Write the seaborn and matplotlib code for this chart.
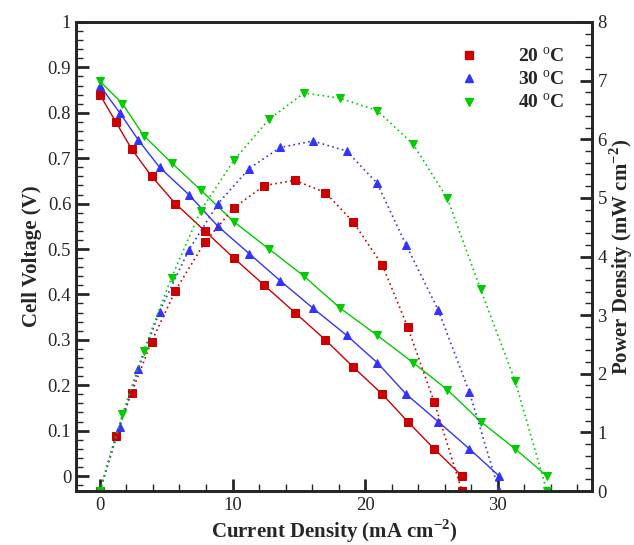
import matplotlib
matplotlib.use("Agg")
import matplotlib.pyplot as plt
import seaborn as sns
import numpy as np
import pandas as pd
from matplotlib.ticker import MultipleLocator

# ---- data ----
labels = ["20 $^{\\rm o}$C", "30 $^{\\rm o}$C", "40 $^{\\rm o}$C"]

i_20 = [0, 1.2, 2.4, 3.9, 5.7, 7.9, 10.1, 12.4, 14.7, 17.0, 19.1, 21.3, 23.2, 25.2, 27.3]
v_20 = [0.84, 0.78, 0.72, 0.66, 0.60, 0.54, 0.48, 0.42, 0.36, 0.30, 0.24, 0.18, 0.12, 0.06, 0.0]
p_20 = [0, 0.94, 1.68, 2.55, 3.42, 4.24, 4.83, 5.21, 5.30, 5.09, 4.59, 3.85, 2.80, 1.52, 0.0]

i_30 = [0, 1.5, 2.9, 4.5, 6.7, 8.9, 11.25, 13.6, 16.05, 18.6, 20.9, 23.1, 25.5, 27.85, 30.1]
v_30 = [0.86, 0.80, 0.74, 0.68, 0.62, 0.55, 0.49, 0.43, 0.37, 0.31, 0.25, 0.18, 0.12, 0.06, 0.0]
p_30 = [0, 1.10, 2.08, 3.06, 4.11, 4.90, 5.50, 5.86, 5.97, 5.80, 5.25, 4.19, 3.09, 1.69, 0.0]

i_40 = [0, 1.7, 3.3, 5.4, 7.6, 10.1, 12.75, 15.4, 18.1, 20.9, 23.6, 26.2, 28.7, 31.3, 33.7]
v_40 = [0.87, 0.82, 0.75, 0.69, 0.63, 0.56, 0.50, 0.44, 0.37, 0.31, 0.25, 0.19, 0.12, 0.06, 0.0]
p_40 = [0, 1.31, 2.39, 3.64, 4.78, 5.64, 6.34, 6.79, 6.70, 6.49, 5.92, 4.99, 3.44, 1.88, 0.0]

currents = [i_20, i_30, i_40]
voltages = [v_20, v_30, v_40]
powers = [p_20, p_30, p_40]
colors = ["#CC0000", "#3333FF", "#00CC00"]
markers = ["s", "^", "v"]

sns.set_style("ticks")
plt.rcParams["font.family"] = ["Liberation Serif", "DejaVu Serif"]
plt.rcParams["mathtext.fontset"] = "custom"
plt.rcParams["mathtext.rm"] = "Liberation Serif"
plt.rcParams["mathtext.bf"] = "Liberation Serif:bold"

fig = plt.figure(figsize=(6.34, 5.45), dpi=100)
ax = fig.add_axes([76 / 634, 1 - 491 / 545, (592 - 76) / 634, (491 - 22) / 545])
ax2 = ax.twinx()

handles = []
for I, V, P, c, m, lab in zip(currents, voltages, powers, colors, markers, labels):
    dfv = pd.DataFrame({"I": I, "V": V})
    dfp = pd.DataFrame({"I": I, "P": P})
    sns.lineplot(data=dfv, x="I", y="V", ax=ax, color=c, lw=1.0, marker=m,
                 markersize=6, markeredgecolor=c, sort=False, legend=False)
    sns.lineplot(data=dfp, x="I", y="P", ax=ax2, color=c, lw=1.2, marker=m,
                 markersize=6, markeredgecolor=c, sort=False, legend=False,
                 linestyle=(0, (1, 2)))
    h, = ax.plot([], [], ls="none", marker=m, color=c, markersize=6, label=lab)
    handles.append(h)

ax.set_xlim(-1.8, 37.1)
ax.set_ylim(-0.033, 1.0)
ax2.set_ylim(0, 8)

ax.xaxis.set_major_locator(MultipleLocator(10))
ax.xaxis.set_minor_locator(MultipleLocator(2))
ax.yaxis.set_major_locator(MultipleLocator(0.1))
ax.yaxis.set_minor_locator(MultipleLocator(0.02))
ax2.yaxis.set_major_locator(MultipleLocator(1))
ax2.yaxis.set_minor_locator(MultipleLocator(0.2))

ax.set_yticks(np.round(np.arange(0, 1.01, 0.1), 1))
ax.set_yticklabels(["0", "0.1", "0.2", "0.3", "0.4", "0.5", "0.6", "0.7", "0.8", "0.9", "1"])

for a in (ax, ax2):
    a.tick_params(which="major", direction="in", length=9, width=2, labelsize=13.5)
    a.tick_params(which="minor", direction="in", length=5, width=1)
    for s in a.spines.values():
        s.set_linewidth(2)
ax.tick_params(axis="both", top=False, right=False)
ax.tick_params(axis="x", pad=4)
ax2.tick_params(axis="y", right=True, left=False, pad=4)

ax.set_xlabel("Current Density (mA cm$^{\\mathbf{-2}}$)", fontsize=15, fontweight="bold", labelpad=3)
ax.set_ylabel("Cell Voltage (V)", fontsize=15, fontweight="bold", labelpad=4)
ax2.set_ylabel("Power Density (mW cm$^{\\mathbf{-2}}$)", fontsize=15, fontweight="bold", labelpad=0)

leg = ax.legend(handles=handles, loc="upper right", bbox_to_anchor=(0.98, 0.985),
                frameon=False, prop={"size": 14, "weight": "bold"},
                handletextpad=2.0, labelspacing=0.2, handlelength=1.0)

fig.savefig("out.png", dpi=100)
